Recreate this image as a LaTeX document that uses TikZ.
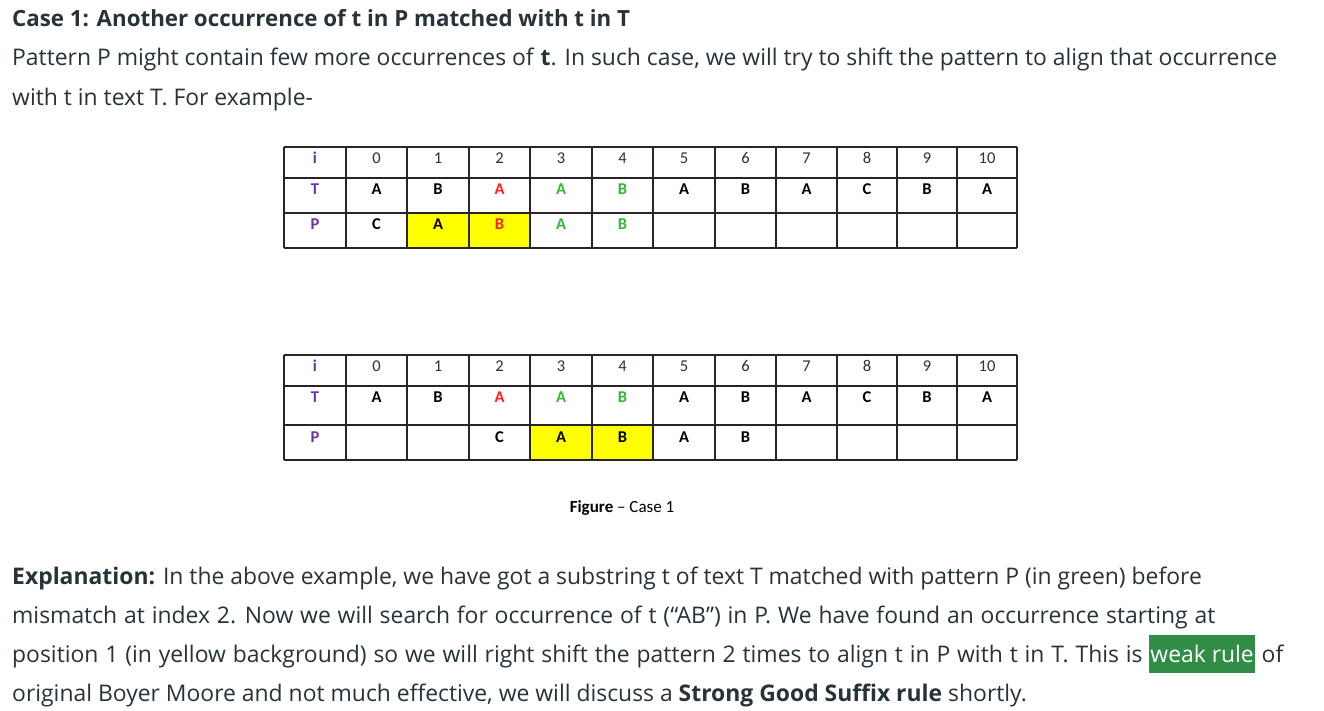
\documentclass[tikz,border=0pt]{standalone}
\usepackage{fontspec}
\setmainfont{Open Sans}
\newfontfamily\tabfont{Carlito}
\newfontfamily\widefont{Open Sans}[WordSpace=1.15]
\definecolor{gfgtext}{HTML}{273239}
\definecolor{idxpurple}{HTML}{7030A0}
\definecolor{missred}{HTML}{FF2020}
\definecolor{hitgreen}{HTML}{33B833}
\definecolor{occyellow}{HTML}{FFFF00}
\definecolor{rulegreen}{HTML}{308D46}

\begin{document}
\begin{tikzpicture}[x=1pt,y=-1pt,
  txt/.style={anchor=base west,inner sep=0pt,text=gfgtext,
    font=\fontsize{22.9}{27}\selectfont},
  wide/.style={txt,font=\widefont\fontsize{22.9}{27}\selectfont},
  hd/.style={txt,font=\fontsize{22.3}{27}\selectfont\bfseries},
  grid/.style={draw=black!85,line width=1.2pt},
  cell/.style={inner sep=0pt,font=\tabfont\fontsize{16.5}{19}\selectfont},
  ltr/.style={cell,font=\tabfont\bfseries\fontsize{16.5}{19}\selectfont},
  idx/.style={ltr,text=idxpurple}]

\useasboundingbox[fill=white] (0,0) rectangle (1324,711);

% text above the figure
\node[hd] (head) at (12,27)
  {Case 1: Another occurrence of t in P matched with t in T};
\node[txt] (intro1) at (12,66)
  {Pattern P might contain few more occurrences of \textbf{t}. In such case,
   we will try to shift the pattern to align that occurrence};
\node[txt] (intro2) at (12,106) {with t in text T. For example-};

% yellow cells (occurrence of t in P)
\fill[occyellow] (407,213) rectangle (530,248);
\fill[occyellow] (530,425) rectangle (653,460);

% table grids
\foreach \ya/\yb/\yc/\yd in {147/178/213/248, 355/386/425/460} {
  \foreach \gx in {284,346,407,469,530,592,653,715,776,837,897,957,1017}
    \draw[grid] (\gx,\ya) -- (\gx,\yd);
  \foreach \gy in {\ya,\yb,\yc,\yd}
    \draw[grid] (284,\gy) -- (1017,\gy);
}

% index row and text row, same in both tables
\foreach \tb/\ya/\yb in {1/147/178, 2/355/386} {
  \node[idx] (t\tb-li) at (315,\ya+11) {i};
  \node[idx] (t\tb-lT) at (315,\yb+11) {T};
  \foreach \cx [count=\k from 0] in
    {376.5,438,499.5,561,622.5,684,745.5,806.5,867,927,987}
    \node[cell,text=gfgtext] (t\tb-i-\k) at (\cx,\ya+11) {\k};
  \foreach \cx/\ch/\col [count=\k from 0] in
    {376.5/A/black,438/B/black,499.5/A/missred,561/A/hitgreen,
     622.5/B/hitgreen,684/A/black,745.5/B/black,806.5/A/black,
     867/C/black,927/B/black,987/A/black}
    \node[ltr,text=\col] (t\tb-T-\k) at (\cx,\yb+11) {\ch};
}

% pattern row, before the shift
\node[idx] (t1-lP) at (315,224) {P};
\foreach \cx/\ch/\col [count=\k from 0] in
  {376.5/C/black,438/A/black,499.5/B/missred,561/A/hitgreen,622.5/B/hitgreen}
  \node[ltr,text=\col] (t1-P-\k) at (\cx,224) {\ch};

% pattern row, shifted by 2
\node[idx] (t2-lP) at (315,437) {P};
\foreach \cx/\ch [count=\k from 2] in
  {499.5/C,561/A,622.5/B,684/A,745.5/B}
  \node[ltr] (t2-P-\k) at (\cx,437) {\ch};

\node[inner sep=0pt,anchor=base,font=\tabfont\fontsize{17}{20}\selectfont]
  (cap) at (622,512) {\textbf{Figure} – Case 1};

% explanation
\node[txt] (expl1) at (12,584)
  {\textbf{Explanation:} In the above example, we have got a substring t of
   text T matched with pattern P (in green) before};
\node[wide] (expl2) at (12,623)
  {mismatch at index 2. Now we will search for occurrence of t (“AB”) in P.
   We have found an occurrence starting at};
\node[wide] (expl3) at (12,662)
  {position 1 (in yellow background) so we will right shift the pattern
   2 times to align t in P with t in T. This is};
\node[txt,text=white,fill=rulegreen,inner xsep=1pt,inner ysep=0pt,
  text height=27pt,text depth=11pt,anchor=base west]
  (weak) at ([xshift=6.5pt]expl3.base east) {weak rule};
\node[txt,anchor=base west] (expl3b) at ([xshift=6.5pt]weak.base east) {of};
\node[txt] (expl4) at (12,701)
  {original Boyer Moore and not much effective, we will discuss a
   \textbf{Strong Good Suffix rule} shortly.};
\end{tikzpicture}
\end{document}
